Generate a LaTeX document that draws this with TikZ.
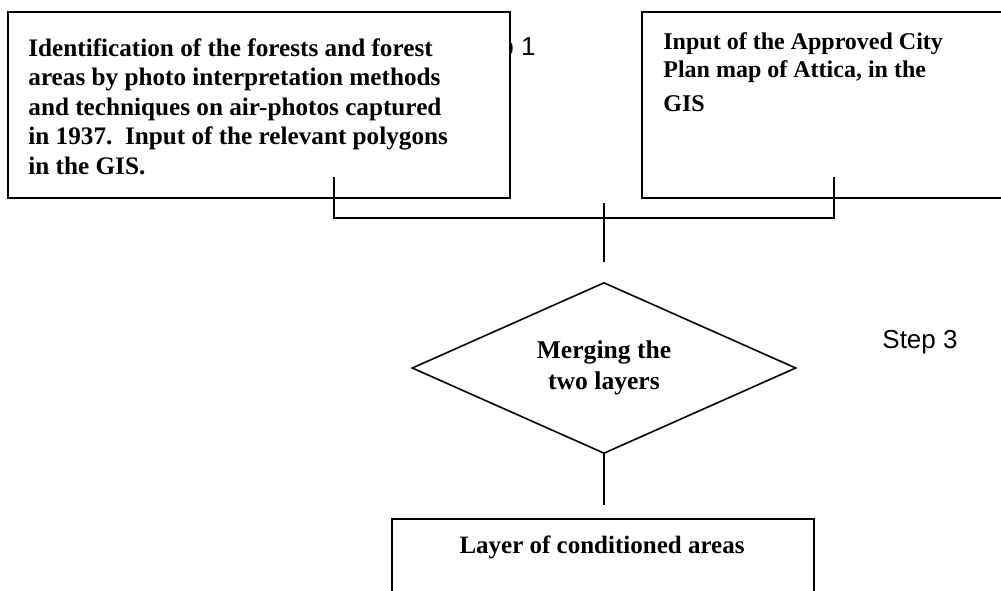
\documentclass[tikz,border=0pt]{standalone}
\usepackage{fontspec}
\setmainfont{Liberation Serif}
\setsansfont{Liberation Sans}
\usetikzlibrary{positioning}
\usetikzlibrary{shapes.geometric}

\begin{document}
\begin{tikzpicture}[x=0.5pt, y=-0.5pt,
    stepbox/.style={draw, fill=white, line width=1pt, inner sep=0},
    steptext/.style={font=\bfseries\fontsize{12}{14}\selectfont, align=left, inner sep=0},
    steplabel/.style={font=\sffamily\fontsize{13}{15}\selectfont, inner sep=0},
    link/.style={line width=0.8pt}]
        \useasboundingbox (0,0) rectangle (1001,590);
        \clip (0,0) rectangle (1001,590);
        % nodes %
        \node[steplabel, anchor=base east] (stepone) at (536,55) {Step 1};
        \node[stepbox, minimum width=251pt, minimum height=93pt] (forest) at (259,105) {};
        \node[steptext, anchor=north west, font=\bfseries\fontsize{12.6}{14.75}\selectfont] (foresttext) at (28,38) {Identification of the forests and forest\\
            areas by photo interpretation methods\\
            and techniques on air-photos captured\\
            in 1937.\ \ Input of the relevant polygons\\
            in the GIS.};
        \node[stepbox, minimum width=200pt, minimum height=93pt] (cityplan) at (842,105) {};
        \node[steptext, anchor=north west] (citytext) at (663,32) {Input of the Approved City\\
            Plan map of Attica, in the\\[3pt]
            GIS};
        \node[draw, diamond, aspect=2.25, minimum width=192pt, minimum height=85.5pt, inner sep=0,
            line width=0.8pt, align=center, font=\bfseries\fontsize{12.8}{15.5}\selectfont] (merge) at (604,368) {Merging the\\two layers};
        \node[steplabel, anchor=base west] (stepthree) at (882,348) {Step 3};
        \node[stepbox, minimum width=211pt, minimum height=60.5pt] (layer) at (603,579.5) {};
        \node[steptext, anchor=base, font=\bfseries\fontsize{12.5}{14}\selectfont] (layertext) at (602,553) {Layer of conditioned areas};
        % edges %
        \coordinate (fstub) at (334,177);
        \coordinate (cstub) at (834,177);
        \coordinate (joinl) at (334,218);
        \coordinate (joinr) at (834,218);
        \coordinate (mtop) at (604,203);
        \coordinate (mbot) at (604,262);
        \coordinate (ltop) at (604,505);
        \draw[link] (fstub) -- (joinl) -- (joinr) -- (cstub);
        \draw[link] (mtop) -- (mbot);
        \draw[link] (merge.south) -- (ltop);
\end{tikzpicture}
\end{document}
